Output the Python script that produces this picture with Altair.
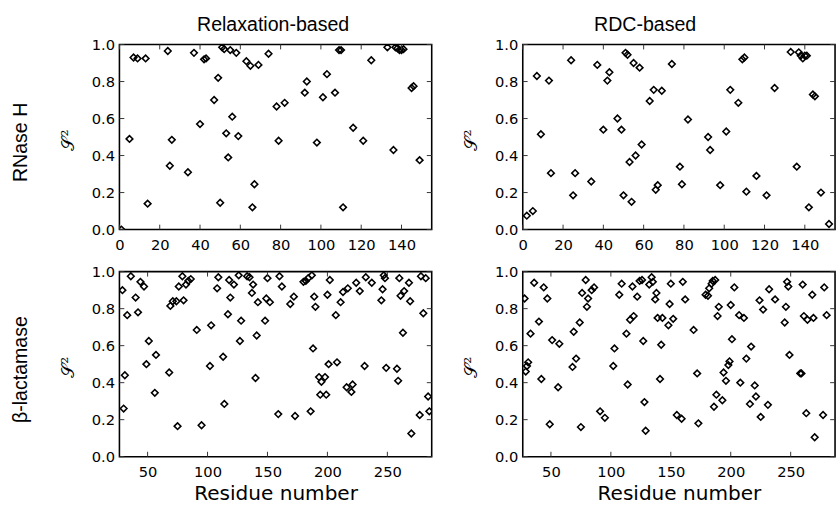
import altair as alt
import pandas as pd

# ---------------- data ----------------
rnase_relax_res = [1, 5, 7, 9, 13, 14, 24, 25, 26, 34, 37, 40, 42, 43, 47, 49, 50, 51, 52, 53,
                   54, 55, 56, 58, 59, 63, 65, 66, 67, 69, 74, 78, 79, 82, 92, 93, 98, 101, 103, 107,
                   109, 110, 111, 116, 121, 125, 133, 136, 137, 138, 139, 140, 141, 145, 146, 149]
rnase_relax_s2 = [0.0, 0.49, 0.93, 0.925, 0.925, 0.14, 0.965, 0.345, 0.485, 0.31, 0.955, 0.57, 0.92, 0.925, 0.70, 0.82, 0.145, 0.985, 0.975, 0.52,
                  0.39, 0.97, 0.61, 0.955, 0.505, 0.91, 0.885, 0.12, 0.245, 0.89, 0.95, 0.665, 0.48, 0.685, 0.74, 0.80, 0.47, 0.715, 0.84, 0.74,
                  0.97, 0.97, 0.12, 0.55, 0.48, 0.915, 0.985, 0.43, 0.985, 0.98, 0.97, 0.97, 0.975, 0.765, 0.775, 0.375]

rnase_rdc_res = [2, 5, 7, 9, 13, 14, 24, 25, 26, 34, 37, 40, 42, 43, 47, 49, 50, 51, 52, 53,
                 54, 55, 56, 58, 59, 63, 65, 66, 67, 69, 74, 78, 79, 82, 92, 93, 98, 101, 103, 107,
                 109, 110, 111, 116, 121, 125, 133, 136, 137, 138, 139, 140, 141, 142, 144, 145, 148, 152]
rnase_rdc_s2 = [0.075, 0.10, 0.83, 0.515, 0.805, 0.305, 0.915, 0.185, 0.305, 0.26, 0.89, 0.54, 0.805, 0.85, 0.60, 0.54, 0.185, 0.955, 0.945, 0.365,
                0.15, 0.90, 0.40, 0.875, 0.46, 0.695, 0.755, 0.215, 0.24, 0.75, 0.895, 0.34, 0.245, 0.595, 0.50, 0.43, 0.24, 0.53, 0.755, 0.685,
                0.92, 0.93, 0.205, 0.29, 0.185, 0.765, 0.96, 0.34, 0.958, 0.94, 0.925, 0.94, 0.94, 0.12, 0.73, 0.72, 0.20, 0.03]

bla_relax_res = [29, 30, 31, 33, 36, 40, 42, 44, 47, 49, 51, 56, 57, 68, 69, 71, 74, 75, 76, 79,
                 80, 82, 84, 86, 91, 95, 102, 103, 108, 109, 113, 114, 117, 118, 119, 122, 126, 127, 128, 133,
                 135, 137, 138, 140, 141, 142, 148, 149, 150, 152, 159, 160, 162, 169, 172, 173, 180, 182, 184, 186,
                 187, 188, 189, 190, 193, 194, 195, 198, 199, 200, 201, 202, 207, 208, 211, 213, 216, 217, 220, 221,
                 224, 227, 231, 232, 237, 245, 246, 247, 248, 249, 258, 259, 260, 261, 263, 264, 268, 269, 270, 277,
                 278, 280, 282, 284, 285]
bla_relax_s2 = [0.90, 0.26, 0.44, 0.765, 0.975, 0.86, 0.78, 0.945, 0.92, 0.50, 0.625, 0.345, 0.55, 0.455, 0.815, 0.84, 0.84, 0.165, 0.92, 0.975,
                0.845, 0.93, 0.95, 0.96, 0.685, 0.17, 0.49, 0.71, 0.91, 0.97, 0.54, 0.285, 0.77, 0.955, 0.86, 0.93, 0.98, 0.625, 0.735, 0.975,
                0.97, 0.885, 0.93, 0.425, 0.655, 0.835, 0.735, 0.855, 0.965, 0.835, 0.23, 0.975, 0.92, 0.825, 0.865, 0.22, 0.945, 0.95, 0.965, 0.245,
                0.98, 0.585, 0.865, 0.81, 0.43, 0.335, 0.405, 0.43, 0.335, 0.875, 0.50, 0.955, 0.765, 0.51, 0.835, 0.89, 0.375, 0.91, 0.35, 0.39,
                0.94, 0.895, 0.49, 0.97, 0.94, 0.845, 0.905, 0.98, 0.965, 0.48, 0.475, 0.41, 0.965, 0.87, 0.67, 0.895, 0.94, 0.84, 0.125, 0.225,
                0.975, 0.775, 0.965, 0.325, 0.245]

bla_rdc_res = [28, 29, 30, 31, 33, 36, 40, 42, 44, 47, 49, 51, 56, 57, 68, 69, 71, 74, 75, 76,
               79, 80, 81, 84, 86, 91, 95, 102, 103, 107, 109, 113, 114, 116, 118, 119, 122, 124, 126, 127,
               128, 129, 132, 134, 135, 137, 138, 139, 141, 142, 143, 148, 149, 150, 152, 155, 159, 160, 162, 169,
               172, 173, 179, 181, 182, 184, 185, 186, 187, 188, 189, 190, 193, 194, 196, 198, 199, 200, 201, 203,
               207, 208, 211, 213, 216, 217, 220, 221, 224, 225, 227, 231, 232, 237, 245, 246, 247, 248, 249, 258,
               259, 260, 261, 263, 264, 268, 269, 270, 277, 278, 280]
bla_rdc_s2 = [0.855, 0.46, 0.49, 0.51, 0.665, 0.94, 0.73, 0.42, 0.915, 0.855, 0.175, 0.63, 0.375, 0.61, 0.485, 0.675, 0.53, 0.725, 0.16, 0.885,
              0.955, 0.81, 0.855, 0.90, 0.915, 0.245, 0.21, 0.49, 0.585, 0.875, 0.935, 0.665, 0.39, 0.74, 0.92, 0.76, 0.865, 0.95, 0.955, 0.625,
              0.295, 0.14, 0.93, 0.97, 0.945, 0.85, 0.885, 0.75, 0.42, 0.605, 0.75, 0.71, 0.825, 0.935, 0.745, 0.225, 0.205, 0.945, 0.85, 0.685,
              0.45, 0.18, 0.875, 0.87, 0.91, 0.935, 0.95, 0.27, 0.955, 0.335, 0.76, 0.81, 0.305, 0.455, 0.41, 0.495, 0.515, 0.82, 0.635, 0.915,
              0.765, 0.40, 0.75, 0.53, 0.285, 0.595, 0.385, 0.325, 0.845, 0.215, 0.795, 0.28, 0.905, 0.85, 0.725, 0.81, 0.945, 0.92, 0.55, 0.45,
              0.45, 0.93, 0.76, 0.235, 0.74, 0.875, 0.75, 0.105, 0.225, 0.915, 0.765]

col_titles = ["Relaxation-based", "RDC-based"]
row_titles = ["RNase H", "\u03b2-lactamase"]
x_title = "Residue number"
y_title = "\U0001D4AE\u00b2"

rnase_xdomain = [0, 155]
bla_xdomain = [26.5, 287]
rnase_xticks = [0, 20, 40, 60, 80, 100, 120, 140]
bla_xticks = [50, 100, 150, 200, 250]
y_ticks = [0.0, 0.2, 0.4, 0.6, 0.8, 1.0]

# ---------------- layout ----------------
W, H = 319, 189
TICK_FONT = "DejaVu Sans"
TITLE_FONT = "Liberation Sans"
TICK_LEN = 5
TICK_COLOR = "#333333"


def panel(res, s2, xdomain, xticks, bottom, col_title=None, col_title_x=None, row_label=None):
    df = pd.DataFrame({"res": res, "s2": s2})
    xscale = alt.Scale(domain=xdomain, nice=False, zero=False)
    yscale = alt.Scale(domain=[0, 1], nice=False, zero=False)

    xaxis_kw = dict(values=xticks, format="d", grid=False, domain=False, ticks=False,
                    labelFont=TICK_FONT, labelFontSize=15, labelColor="black", labelPadding=8,
                    labelFlush=False, labelOverlap=False, labelBound=False)
    if bottom:
        xaxis_kw.update(title=x_title, titleFont=TICK_FONT, titleFontSize=20.5, titleFontWeight="normal",
                        titleColor="black", titleX=W / 2, titleY=44, titleBaseline="alphabetic",
                        titleAlign="center")
    else:
        xaxis_kw.update(title=None)
    xaxis = alt.Axis(**xaxis_kw)

    yaxis = alt.Axis(values=y_ticks, format=".1f", grid=False, domain=False, ticks=False,
                     labelFont=TICK_FONT, labelFontSize=15, labelColor="black", labelPadding=5,
                     labelFlush=False, labelOverlap=False, labelBound=False,
                     title=y_title, titleFont="DejaVu Serif", titleFontSize=18, titleFontWeight="normal",
                     titleColor="black", titleAngle=270, titleX=-52, titleY=97,
                     titleAlign="center", titleBaseline="middle")

    pts = alt.Chart(df).mark_point(shape="diamond", filled=False, color="black", size=46,
                                   strokeWidth=1.6, opacity=1, clip=True).encode(
        x=alt.X("res:Q", scale=xscale, axis=xaxis),
        y=alt.Y("s2:Q", scale=yscale, axis=yaxis),
    )

    xt = pd.DataFrame({"t": xticks})
    yt = pd.DataFrame({"t": y_ticks})
    rule = dict(color=TICK_COLOR, strokeWidth=1)
    xt_top = alt.Chart(xt).mark_rule(**rule).encode(
        x=alt.X("t:Q", scale=xscale, axis=xaxis), y=alt.value(0), y2=alt.value(TICK_LEN))
    xt_bot = alt.Chart(xt).mark_rule(**rule).encode(
        x=alt.X("t:Q", scale=xscale, axis=xaxis), y=alt.value(H - TICK_LEN), y2=alt.value(H))
    yt_left = alt.Chart(yt).mark_rule(**rule).encode(
        y=alt.Y("t:Q", scale=yscale, axis=yaxis), x=alt.value(0), x2=alt.value(TICK_LEN))
    yt_right = alt.Chart(yt).mark_rule(**rule).encode(
        y=alt.Y("t:Q", scale=yscale, axis=yaxis), x=alt.value(W - TICK_LEN), x2=alt.value(W))

    layers = [pts, xt_top, xt_bot, yt_left, yt_right]

    if col_title is not None:
        layers.append(alt.Chart(pd.DataFrame({"t": [col_title]})).mark_text(
            font=TITLE_FONT, fontSize=20, color="black", align="center", baseline="alphabetic").encode(
            x=alt.value(col_title_x), y=alt.value(-14), text="t:N"))
    if row_label is not None:
        layers.append(alt.Chart(pd.DataFrame({"t": [row_label]})).mark_text(
            font=TITLE_FONT, fontSize=20, color="black", align="center", baseline="middle", angle=270).encode(
            x=alt.value(-100), y=alt.value(100), text="t:N"))

    return alt.layer(*layers).properties(width=W, height=H)


p1 = panel(rnase_relax_res, rnase_relax_s2, rnase_xdomain, rnase_xticks, False,
           col_title=col_titles[0], col_title_x=157, row_label=row_titles[0])
p2 = panel(rnase_rdc_res, rnase_rdc_s2, rnase_xdomain, rnase_xticks, False,
           col_title=col_titles[1], col_title_x=125)
p3 = panel(bla_relax_res, bla_relax_s2, bla_xdomain, bla_xticks, True, row_label=row_titles[1])
p4 = panel(bla_rdc_res, bla_rdc_s2, bla_xdomain, bla_xticks, True)

row1 = alt.hconcat(p1, p2, spacing=29)
row2 = alt.hconcat(p3, p4, spacing=29)

chart = alt.vconcat(row1, row2, spacing=11).properties(
    padding={"left": 11, "top": 9, "right": 0, "bottom": 0},
    background="white",
).configure_view(stroke="black", strokeWidth=1.6)

chart.save("out.html", embed_options={"renderer": "svg", "actions": False})
